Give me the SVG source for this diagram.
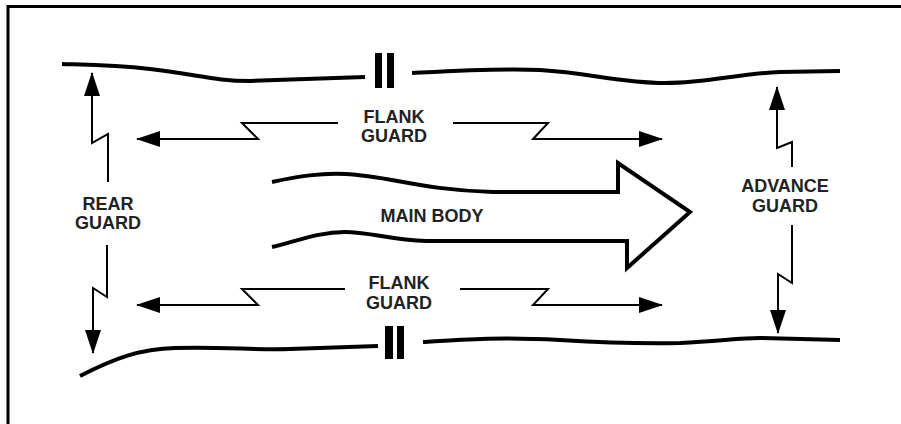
<svg xmlns="http://www.w3.org/2000/svg" width="901" height="424" viewBox="0 0 901 424">
<defs>
<marker id="ah" markerWidth="24" markerHeight="16" refX="23" refY="8" markerUnits="userSpaceOnUse" orient="auto">
<path d="M0,0 L24,8 L0,16 Z" fill="#000"/>
</marker>
<style>
.road{fill:none;stroke:#000;stroke-width:4;stroke-linecap:butt}
.bar{fill:#000}
.conn{fill:none;stroke:#000;stroke-width:2;marker-end:url(#ah)}
.lbl{font-family:"Liberation Sans",Arial,sans-serif;font-weight:bold;font-size:18px;fill:#222;text-anchor:middle}
</style>
</defs>
<rect width="901" height="424" fill="#fff"/>
<path d="M8,424 V6.5 H901" fill="none" stroke="#000" stroke-width="3"/>
<g id="boundary-top">
<path class="road" d="M62,64 C100,65 115,65 150,69 C200,75 215,81 250,81 L365,77"/>
<rect class="bar" x="375" y="53" width="7" height="35"/>
<rect class="bar" x="387" y="53" width="7" height="35"/>
<path class="road" d="M412,73 C450,71 500,68 540,70 C590,73 620,83 665,83 C710,83 740,73 780,72 L840,71"/>
</g>
<g id="boundary-bottom">
<path class="road" d="M80,376 C115,358 140,349 175,348 C230,347 250,350 290,349 L378,346"/>
<rect class="bar" x="385" y="326" width="8" height="33"/>
<rect class="bar" x="397" y="326" width="7" height="33"/>
<path class="road" d="M423,342 C470,339 500,337 560,340 C610,343 640,344 680,343 C720,341 740,338 760,338 L840,340"/>
</g>
<g id="main-body">
<path d="M272,182 C300,176 320,173 345,174 C390,176 420,190 493,192 L618,192 L618,163 L690,212 L627,268 L627,241 L427,241 C390,240 370,232 345,232 C320,232 300,240 272,247" fill="none" stroke="#000" stroke-width="4" stroke-linejoin="miter"/>
<text class="lbl" x="432" y="222">MAIN BODY</text>
</g>
<g id="rear-guard">
<text class="lbl" x="108" y="210">REAR</text>
<text class="lbl" x="108" y="229">GUARD</text>
</g>
<g id="flank-guard-top">
<text class="lbl" x="394" y="123">FLANK</text>
<text class="lbl" x="394" y="142">GUARD</text>
</g>
<g id="flank-guard-bottom">
<text class="lbl" x="399" y="289">FLANK</text>
<text class="lbl" x="399" y="309">GUARD</text>
</g>
<g id="advance-guard">
<text class="lbl" x="785" y="192">ADVANCE</text>
<text class="lbl" x="785" y="212">GUARD</text>
</g>
<g id="connectors">
<path class="conn" d="M108,182 V134 L92,143 V73"/>
<path class="conn" d="M107,245 V297 L93,288 V353"/>
<path class="conn" d="M338,123 H242 L258,139 H137"/>
<path class="conn" d="M453,123 H548 L533,139 H662"/>
<path class="conn" d="M345,289 H242 L258,305 H137"/>
<path class="conn" d="M460,289 H548 L533,305 H662"/>
<path class="conn" d="M792,167 V142 L777,148 V87"/>
<path class="conn" d="M792,225 V283 L778,274 V333"/>
</g>
</svg>
